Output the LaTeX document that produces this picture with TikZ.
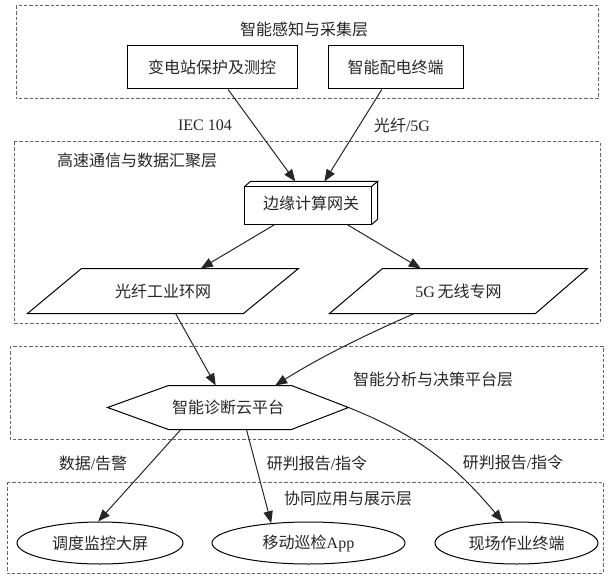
\documentclass[tikz,border=0pt]{standalone}
\usepackage{fontspec}
\setmainfont{Liberation Serif}
\newfontfamily\cjk{Noto Sans CJK SC}
\usetikzlibrary{shapes.geometric,arrows.meta,calc}

\tikzset{every picture/.style={line width=0.75pt}}
\tikzset{
	layer/.style={draw=black!60, dash pattern=on 2.5pt off 1.5pt},
	box/.style={draw, rectangle, inner sep=0pt, minimum height=32.25pt},
	plain/.style={rectangle, inner sep=0pt},
	oval/.style={draw, ellipse, inner sep=0pt, minimum height=31.5pt},
	link/.style={-{Triangle[length=9pt,width=7pt]}, black!85}
}

\begin{document}
\begin{tikzpicture}[x=0.75pt,y=0.75pt,yscale=-1,xscale=1,font=\fontsize{12}{14}\selectfont,text=black!85]
	\useasboundingbox (0,0) rectangle (610,581);

	%Shape: Layer Frames
	\draw [layer] (16,6) rectangle (598,99);
	\draw [layer] (14,142) rectangle (600,323);
	\draw [layer] (10,346) rectangle (603,439);
	\draw [layer] (7,482) rectangle (603,573);

	% Text Node
	\node (t1) at (304,29) {\cjk 智能感知与采集层};
	% Text Node
	\node (t2) at (137,160) {\cjk 高速通信与数据汇聚层};
	% Text Node
	\node (t3) at (433,379) {\cjk 智能分析与决策平台层};
	% Text Node
	\node (t4) at (348,498) {\cjk 协同应用与展示层};

	%Shape: Rectangle
	\node [box, minimum width=127.5pt] (sub) at (212,67.5) {\cjk 变电站保护及测控};
	%Shape: Rectangle
	\node [box, minimum width=101.25pt] (dtu) at (395.5,67.5) {\cjk 智能配电终端};

	%Shape: Box 3D
	\node [plain, minimum width=99pt, minimum height=31.5pt] (gw) at (311,203) {\cjk 边缘计算网关};
	\draw (gw.south west) rectangle ($(gw.north east)+(-6,5)$);
	\draw ($(gw.north west)+(0,5)$) -- ($(gw.north west)+(6,0)$) -- (gw.north east) -- ($(gw.north east)+(-6,5)$);
	\draw (gw.north east) -- ($(gw.south east)+(0,-5)$) -- ($(gw.south east)+(-6,0)$);

	%Shape: Parallelogram
	\node [plain, minimum width=202.5pt, minimum height=33pt] (ring) at (163,291) {\cjk 光纤工业环网};
	\draw ($(ring.north west)+(54,0)$) -- (ring.north east) -- ($(ring.south east)+(-55,0)$) -- (ring.south west) -- cycle;
	%Shape: Parallelogram
	\node [plain, minimum width=192.75pt, minimum height=33pt] (g5) at (458.5,291) {5G\,{\cjk 无线专网}};
	\draw ($(g5.north west)+(53,0)$) -- (g5.north east) -- ($(g5.south east)+(-52,0)$) -- (g5.south west) -- cycle;

	%Shape: Hexagon
	\node [plain, minimum width=180pt, minimum height=32.25pt] (hex) at (228,407.5) {\cjk 智能诊断云平台};
	\draw (hex.west) -- ($(hex.north west)+(61,0)$) -- ($(hex.north east)+(-57,0)$) -- (hex.east) -- ($(hex.south east)+(-57,0)$) -- ($(hex.south west)+(61,0)$) -- cycle;

	%Shape: Ellipse
	\node [oval, minimum width=124.5pt] (e1) at (100,543) {\cjk 调度监控大屏};
	%Shape: Ellipse
	\node [oval, minimum width=144.75pt] (e2) at (308.5,543) {{\cjk 移动巡检}App};
	%Shape: Ellipse
	\node [oval, minimum width=122.25pt] (e3) at (516.5,543) {\cjk 现场作业终端};

	%Straight Lines
	\draw [link] (sub) -- (gw);
	\draw [link] (dtu) -- (gw);
	\draw [link] (gw) -- (ring);
	\draw [link] (gw) -- (g5);
	\draw [link] (ring) -- (hex);
	\draw [link] (g5.207) .. controls +(-50,22) and +(46,-29) .. (hex.25);
	\draw [link] (hex.205) -- (e1.95);
	\draw [link] (hex.310) -- (e2.152);
	\draw [link] (hex.east) .. controls +(70,28) and +(-48,-57) .. (e3.123);

	% Text Node
	\node (l1) at (205,125) {IEC 104};
	% Text Node
	\node (l2) at (402,125) {{\cjk 光纤}/5G};
	% Text Node
	\node (l3) at (93,463) {{\cjk 数据}/{\cjk 告警}};
	% Text Node
	\node (l4) at (317,463) {{\cjk 研判报告}/{\cjk 指令}};
	% Text Node
	\node (l5) at (513,462) {{\cjk 研判报告}/{\cjk 指令}};

\end{tikzpicture}
\end{document}
